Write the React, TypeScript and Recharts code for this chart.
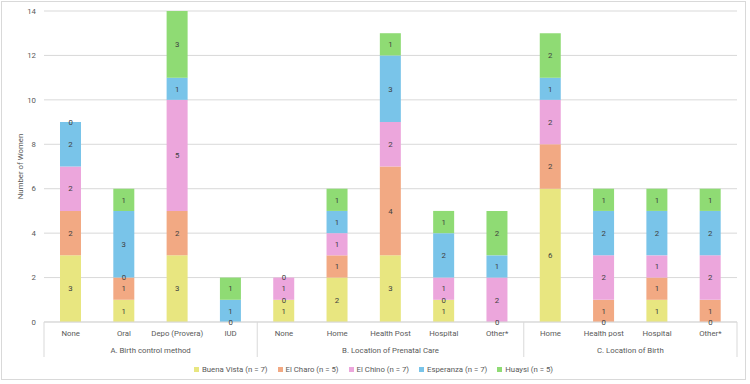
import React from 'react';
import { ComposedChart, Bar, Line, XAxis, YAxis, CartesianGrid, Legend, LabelList } from 'recharts';

// Categories along the x axis, grouped into three sections
const categories = [
  'None', 'Oral', 'Depo (Provera)', 'IUD',
  'None', 'Home', 'Health Post', 'Hospital', 'Other*',
  'Home', 'Health post', 'Hospital', 'Other*',
];
const groupNames = ['A. Birth control method', 'B. Location of Prenatal Care', 'C. Location of Birth'];
const groupSizes = [4, 5, 4];

// Number of women per community
const buenaVista = [3, 1, 3, 0, 1, 2, 3, 1, 0, 6, 0, 1, 0];
const elCharo = [2, 1, 2, 0, 0, 1, 4, 0, 0, 2, 1, 1, 1];
const elChino = [2, 0, 5, 0, 1, 1, 2, 1, 2, 2, 2, 1, 2];
const esperanza = [2, 3, 1, 1, 0, 1, 3, 2, 1, 1, 2, 2, 2];
const huaysi = [0, 1, 3, 1, 0, 1, 1, 1, 2, 2, 1, 1, 1];

const yTicks = [0, 2, 4, 6, 8, 10, 12, 14];

const series = [
  { key: 'bv', name: 'Buena Vista (n = 7)', values: buenaVista, color: '#e8e680' },
  { key: 'ec', name: 'El Charo (n = 5)', values: elCharo, color: '#f2a983' },
  { key: 'ch', name: 'El Chino (n = 7)', values: elChino, color: '#eca6dc' },
  { key: 'es', name: 'Esperanza (n = 7)', values: esperanza, color: '#79c4e9' },
  { key: 'hu', name: 'Huaysi (n = 5)', values: huaysi, color: '#8fdb74' },
];

// Each row holds the stacked values plus, for zero-valued segments, the stack level
// where their "0" label sits (zero-height bars get no label of their own).
// Zeros that share a level in the same column are labelled once.
const data = categories.map((c, i) => {
  const row: Record<string, number | string | null> = { idx: i, label: c };
  let base = 0;
  const used = new Set<number>();
  series.forEach((s) => {
    const v = s.values[i];
    row[s.key] = v;
    row[`${s.key}Zero`] = v === 0 && !used.has(base) ? base : null;
    if (v === 0) used.add(base);
    base += v;
  });
  return row;
});

// Section boundaries and section centres on a 0..N numeric scale that shares the band axis range
const boundaries: number[] = [0];
const centers: number[] = [];
groupSizes.forEach((n) => {
  const start = boundaries[boundaries.length - 1];
  centers.push(start + n / 2);
  boundaries.push(start + n);
});
const groupTicks = [...boundaries, ...centers].sort((a, b) => a - b);

const TEXT = '#595959';
const LABEL = '#404040';
const LINE = '#d9d9d9';
const FONT_SIZE = 7.8;

function GroupTick(props: any) {
  const { x, y, payload } = props;
  const v = payload.value;
  if (boundaries.includes(v)) {
    return <line x1={x} x2={x} y1={y - 25} y2={y + 10} stroke={LINE} strokeWidth={1} />;
  }
  const gi = centers.indexOf(v);
  return (
    <text x={x} y={y} dy="0.71em" textAnchor="middle" fill={TEXT} fontSize={FONT_SIZE}>
      {groupNames[gi]}
    </text>
  );
}

function ZeroLabel(props: any) {
  const { cx, cy, value, index } = props;
  if (value === null || value === undefined || cy === null || cy === undefined || Number.isNaN(cy)) {
    return <g key={index} />;
  }
  return (
    <text key={index} x={cx} y={cy} dy="0.35em" textAnchor="middle" fill={LABEL} fontSize={FONT_SIZE}>
      0
    </text>
  );
}

function LegendContent() {
  return (
    <div
      style={{
        display: 'flex',
        justifyContent: 'center',
        alignItems: 'center',
        height: 14,
        paddingLeft: 10,
        fontSize: FONT_SIZE,
        color: TEXT,
      }}
    >
      {series.map((s) => (
        <div key={s.key} style={{ display: 'flex', alignItems: 'center', margin: '0 5px' }}>
          <span style={{ width: 5, height: 5, background: s.color, display: 'inline-block', marginRight: 3 }} />
          <span>{s.name}</span>
        </div>
      ))}
    </div>
  );
}

export default function App() {
  return (
    <div style={{ position: 'fixed', left: 0, top: 0, width: 750, height: 384, background: '#fff', fontFamily: 'Roboto, "Liberation Sans", sans-serif' }}>
      <div style={{ position: 'absolute', left: 1, top: 1, width: 745, height: 379, border: `1px solid ${LINE}`, boxSizing: 'border-box' }} />
      <ComposedChart width={750} height={384} data={data} margin={{ top: 11, right: 13, left: 0, bottom: 8 }}>
        <CartesianGrid vertical={false} stroke={LINE} />
        <XAxis
          dataKey="idx"
          tickFormatter={(v: number) => categories[v]}
          interval={0}
          tickLine={false}
          axisLine={{ stroke: LINE }}
          height={20}
          tick={{ fill: TEXT, fontSize: FONT_SIZE }}
        />
        <XAxis
          xAxisId="group"
          dataKey="idx"
          type="number"
          domain={[0, categories.length]}
          allowDataOverflow
          ticks={groupTicks}
          interval={0}
          tickLine={false}
          axisLine={false}
          tickSize={0}
          tickMargin={5}
          height={20}
          tick={<GroupTick />}
        />
        <YAxis
          width={44}
          domain={[0, 14]}
          ticks={yTicks}
          axisLine={false}
          tickLine={false}
          tick={{ fill: TEXT, fontSize: FONT_SIZE }}
          label={{ value: 'Number of Women', angle: -90, position: 'insideLeft', offset: 20, style: { textAnchor: 'middle', fill: TEXT, fontSize: FONT_SIZE } }}
        />
        <Legend verticalAlign="bottom" height={14} content={<LegendContent />} />
        {series.map((s) => (
          <Bar key={s.key} dataKey={s.key} name={s.name} stackId="a" fill={s.color} barSize={21} isAnimationActive={false}>
            <LabelList dataKey={s.key} position="center" fill={LABEL} fontSize={FONT_SIZE} />
          </Bar>
        ))}
        {series.map((s) => (
          <Line
            key={`${s.key}Zero`}
            dataKey={`${s.key}Zero`}
            stroke="none"
            legendType="none"
            connectNulls={false}
            dot={<ZeroLabel />}
            activeDot={false}
            isAnimationActive={false}
          />
        ))}
      </ComposedChart>
    </div>
  );
}
